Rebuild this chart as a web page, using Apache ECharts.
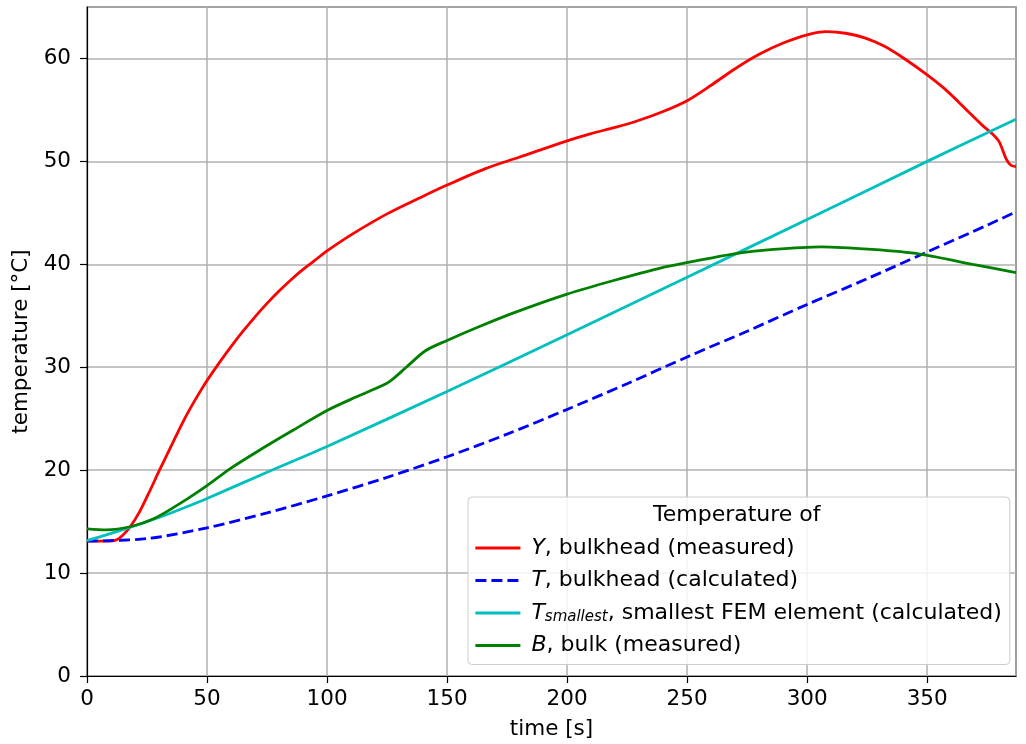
<!DOCTYPE html>
<html>
<head>
<meta charset="utf-8">
<script src="https://cdn.jsdelivr.net/npm/echarts@6/dist/echarts.min.js"></script>
<style>html,body{margin:0;padding:0;background:#fff}#c{width:1026px;height:744px}</style>
</head>
<body>
<div id="c"></div>
<script>
// ---- data ----
const yTime = [0,8,12,15,18,22,26,30,35,40,45,50,55,60,65,70,75,80,85,90,95,100,111,125,139,150,166,180,200,210,220,230,240,250,260,270,280,290,300,308,316,324,332,341,350,358,366,373,377,380,383,385,387];
const yVals = [13.1,13.1,13.2,13.7,14.5,16.0,17.9,19.9,22.3,24.7,26.8,28.7,30.4,32.0,33.5,34.9,36.2,37.4,38.5,39.5,40.4,41.3,43.0,44.9,46.5,47.7,49.3,50.4,52.0,52.7,53.3,54.0,54.85,55.9,57.4,59.0,60.4,61.5,62.3,62.6,62.45,62.0,61.2,59.9,58.4,56.9,55.1,53.5,52.7,51.9,50.2,49.6,49.5];

const tTime = [0,25,50,75,100,125,150,175,200,225,250,275,300,325,350,375,387];
const tVals = [13.1,13.35,14.4,15.85,17.5,19.3,21.3,23.5,25.9,28.4,31.0,33.5,36.1,38.6,41.2,43.8,45.1];

const sTime = [0,10,20,30,40,50,75,100,150,200,250,300,350,387];
const sVals = [13.15,13.85,14.6,15.4,16.3,17.25,19.8,22.3,27.65,33.15,38.75,44.35,50.0,54.1];

const bTime = [0,8,18,28,39,50,60,73,86,100,112,120,126,133,141,150,164,178,200,219,240,251,269,286,306,327,347,369,387];
const bVals = [14.3,14.2,14.5,15.3,16.8,18.5,20.2,22.1,23.9,25.8,27.1,27.9,28.6,30.0,31.6,32.6,34.0,35.3,37.1,38.4,39.7,40.2,41.0,41.45,41.7,41.45,41.0,40.0,39.2];

const seriesNames = ['Y', 'T', 'Ts', 'B'];
const legendLabels = {
  Y: '{i|Y}, bulkhead (measured)',
  T: '{i|T}, bulkhead (calculated)',
  Ts: '{i|T}{sub|smallest}, smallest FEM element (calculated)',
  B: '{i|B}, bulk (measured)'
};
const legendTitle = 'Temperature of';
const xLabel = 'time [s]';
const yLabel = 'temperature [°C]';

function pairs(t, v) { return t.map((x, i) => [x, v[i]]); }

const FONT = 'DejaVu Sans';
const FS = 21.5;
const LFS = 22;
const chart = echarts.init(document.getElementById('c'), null, {renderer: 'canvas'});

const mkSeries = (name, t, v, color, dashed) => ({
  name, type: 'line', data: pairs(t, v), symbol: 'none', showSymbol: false,
  smooth: 0.3,
  lineStyle: {color, width: 2.8, type: dashed ? [11, 5] : 'solid'},
  itemStyle: {color},
  animation: false, z: 3
});

chart.setOption({
  animation: false,
  grid: {left: 87, right: 10, top: 7, bottom: 68, show: true, borderColor: '#000', borderWidth: 1.2,
         backgroundColor: 'transparent', containLabel: false, outerBoundsMode: 'none'},
  xAxis: {
    type: 'value', min: 0, max: 387, interval: 50,
    name: xLabel, nameLocation: 'middle', nameGap: 42,
    nameTextStyle: {fontFamily: FONT, fontSize: FS, color: '#000'},
    axisLine: {show: true, lineStyle: {color: '#000', width: 1.2}},
    axisTick: {show: true, inside: false, length: 7, lineStyle: {color: '#000', width: 1.2}},
    axisLabel: {fontFamily: FONT, fontSize: FS, color: '#000', margin: 12, showMaxLabel: false},
    splitLine: {show: true, lineStyle: {color: '#b0b0b0', width: 1.5}}
  },
  yAxis: {
    type: 'value', min: 0, max: 65, interval: 10,
    name: yLabel, nameLocation: 'middle', nameGap: 53, nameRotate: 90,
    nameTextStyle: {fontFamily: FONT, fontSize: FS, color: '#000'},
    axisLine: {show: true, lineStyle: {color: '#000', width: 1.2}},
    axisTick: {show: true, inside: false, length: 7, lineStyle: {color: '#000', width: 1.2}},
    axisLabel: {fontFamily: FONT, fontSize: FS, color: '#000', margin: 16, showMaxLabel: false},
    splitLine: {show: true, lineStyle: {color: '#b0b0b0', width: 1.5}}
  },
  legend: {
    show: true, orient: 'vertical', left: 468, top: 497,
    padding: [39, 8, 7, 6], itemGap: 8.5, itemWidth: 45, itemHeight: 14,
    backgroundColor: 'rgba(255,255,255,0.85)', borderColor: '#cccccc', borderWidth: 1, borderRadius: 4,
    itemStyle: {opacity: 0},
    lineStyle: {width: 2.8},
    data: seriesNames,
    formatter: n => legendLabels[n],
    textStyle: {
      fontFamily: FONT, fontSize: LFS, color: '#000', lineHeight: 24, padding: [0, 0, 0, 6],
      rich: {
        i: {fontFamily: FONT, fontSize: LFS, fontStyle: 'italic', color: '#000', lineHeight: 24},
        sub: {fontFamily: FONT, fontSize: 15, fontStyle: 'italic', color: '#000', verticalAlign: 'bottom', lineHeight: 24, padding: [9, 0, 0, 0]}
      }
    },
    z: 10
  },
  graphic: [{
    type: 'text', z: 100, left: 738 - 85, top: 504,
    style: {text: legendTitle, font: LFS + 'px "DejaVu Sans"', fill: '#000'}
  }],
  series: [
    mkSeries('Y', yTime, yVals, '#ff0000', false),
    mkSeries('T', tTime, tVals, '#0000ff', true),
    mkSeries('Ts', sTime, sVals, '#00bfbf', false),
    mkSeries('B', bTime, bVals, '#008000', false)
  ]
});
</script>
</body>
</html>
